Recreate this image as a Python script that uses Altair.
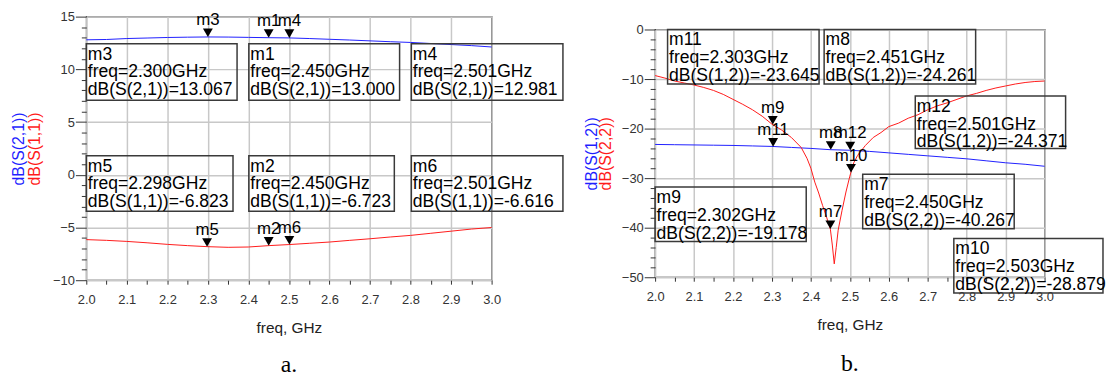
import altair as alt
import pandas as pd

FONT = "Liberation Sans"

# ---------------- panel a : S21 / S11 ----------------
freq_a = [2.00, 2.05, 2.10, 2.15, 2.20, 2.25, 2.30, 2.35, 2.40, 2.45, 2.50,
          2.55, 2.60, 2.65, 2.70, 2.75, 2.80, 2.85, 2.90, 2.95, 3.00]
s21_a = [12.80, 12.83, 12.92, 12.97, 13.02, 13.05, 13.07, 13.06, 13.03, 13.00, 12.98,
         12.92, 12.85, 12.78, 12.70, 12.62, 12.55, 12.45, 12.35, 12.25, 12.12]
s11_a = [-6.15, -6.22, -6.32, -6.45, -6.60, -6.72, -6.82, -6.88, -6.85, -6.72, -6.62,
         -6.50, -6.38, -6.22, -6.07, -5.90, -5.75, -5.55, -5.35, -5.15, -5.00]

mk_a_names = ["m3", "m1", "m4", "m5", "m2", "m6"]
mk_a_freq = [2.300, 2.450, 2.501, 2.298, 2.450, 2.501]
mk_a_val = [13.067, 13.000, 12.981, -6.823, -6.723, -6.616]
mk_a_param = ["S(2,1)", "S(2,1)", "S(2,1)", "S(1,1)", "S(1,1)", "S(1,1)"]

# ---------------- panel b : S12 / S22 ----------------
freq_b12 = [2.00, 2.05, 2.10, 2.15, 2.20, 2.25, 2.30, 2.35, 2.40, 2.45, 2.50,
            2.55, 2.60, 2.65, 2.70, 2.75, 2.80, 2.85, 2.90, 2.95, 3.00]
s12_b = [-23.2, -23.25, -23.3, -23.35, -23.4, -23.5, -23.6, -23.8, -24.0, -24.26, -24.37,
         -24.6, -24.9, -25.2, -25.5, -25.8, -26.1, -26.5, -26.9, -27.2, -27.6]
freq_b22 = [2.00, 2.025, 2.05, 2.075, 2.10, 2.125, 2.15, 2.175, 2.20, 2.225,
            2.25, 2.275, 2.30, 2.325, 2.35, 2.375, 2.39, 2.40, 2.41, 2.42,
            2.43, 2.44, 2.45, 2.455, 2.46, 2.465, 2.47, 2.48, 2.49, 2.50,
            2.51, 2.52, 2.53, 2.54, 2.56, 2.58, 2.60, 2.625, 2.65, 2.675,
            2.70, 2.725, 2.75, 2.775, 2.80, 2.825, 2.85, 2.875, 2.90, 2.925,
            2.95, 2.975, 3.00]
s22_b = [-9.3, -9.8, -10.4, -10.8, -11.2, -11.7, -12.3, -13.1, -14.1, -15.1,
         -16.2, -17.5, -19.1, -20.3, -21.8, -23.8, -26.0, -28.0, -30.8, -33.0,
         -35.5, -37.8, -40.3, -43.5, -47.3, -44.0, -40.5, -36.5, -32.8, -29.6,
         -26.9, -25.4, -24.4, -23.4, -21.8, -20.8, -19.6, -18.9, -17.9, -17.2,
         -16.2, -15.4, -14.8, -14.1, -13.4, -12.9, -12.3, -11.8, -11.4, -11.0,
         -10.7, -10.5, -10.4]

mk_b_names = ["m11", "m8", "m12", "m9", "m7", "m10"]
mk_b_freq = [2.303, 2.451, 2.501, 2.302, 2.450, 2.503]
mk_b_val = [-23.645, -24.261, -24.371, -19.178, -40.267, -28.879]
mk_b_param = ["S(1,2)", "S(1,2)", "S(1,2)", "S(2,2)", "S(2,2)", "S(2,2)"]

# tick positions
x_ticks = [2.0, 2.05, 2.1, 2.15, 2.2, 2.25, 2.3, 2.35, 2.4, 2.45, 2.5,
           2.55, 2.6, 2.65, 2.7, 2.75, 2.8, 2.85, 2.9, 2.95, 3.0]
y_ticks_a = [-10, -9, -8, -7, -6, -5, -4, -3, -2, -1, 0, 1, 2, 3, 4, 5,
             6, 7, 8, 9, 10, 11, 12, 13, 14, 15]
y_ticks_b = [-50, -48, -46, -44, -42, -40, -38, -36, -34, -32, -30, -28, -26,
             -24, -22, -20, -18, -16, -14, -12, -10, -8, -6, -4, -2, 0]

# marker read-out box placement (layout, in data units): left, right, bottom, top
box_a = {"m3": (2.0, 2.372, 7.07, 12.43), "m1": (2.401, 2.773, 7.07, 12.43),
         "m4": (2.802, 3.176, 7.07, 12.43), "m5": (2.0, 2.362, -3.45, 1.81),
         "m2": (2.401, 2.760, -3.45, 1.81), "m6": (2.802, 3.176, -3.45, 1.81)}
box_b = {"m11": (2.032, 2.421, -11.0, 0.0), "m8": (2.434, 2.823, -11.0, 0.0),
         "m12": (2.668, 3.054, -24.0, -13.4), "m9": (2.0, 2.388, -42.8, -31.8),
         "m7": (2.533, 2.922, -40.2, -29.2), "m10": (2.767, 3.150, -53.2, -42.2)}

GRID = "#c8c8c8"
INK = "#333333"


def x_axis():
    t = "abs(datum.value*10 - round(datum.value*10)) < 0.001"
    return alt.Axis(values=x_ticks, title="freq, GHz", format=".1f",
                    labelExpr=t + " ? datum.label : ''", labelOverlap=False, labelFlush=False,
                    tickSize=4, tickColor=INK, domain=False, grid=True, gridColor=GRID, gridWidth=1.5,
                    gridOpacity={"condition": {"test": t, "value": 1}, "value": 0},
                    labelFont=FONT, labelFontSize=13, labelColor=INK, labelPadding=9,
                    titleFont=FONT, titleFontSize=15.5, titleFontWeight="normal", titleColor="#222",
                    titlePadding=15)


def y_axis(ticks, major, title, color, tx, ty):
    t = f"datum.value % {major} === 0"
    return alt.Axis(values=ticks, orient="left", title=title, titleColor=color,
                    titleX=tx, titleY=ty, titleAngle=270, titleBaseline="middle", titleAlign="center",
                    titleFont=FONT, titleFontSize=16, titleFontWeight="normal",
                    labelExpr=t + " ? datum.label : ''", labelOverlap=False, labelFlush=False,
                    tickSize={"condition": {"test": t, "value": 11}, "value": 5}, tickColor=INK,
                    domain=False, grid=True, gridColor=GRID, gridWidth=1.5,
                    gridOpacity={"condition": {"test": t, "value": 1}, "value": 0},
                    labelFont=FONT, labelFontSize=13, labelColor=INK, labelPadding=1)


def title_only_axis(title, color, tx, ty):
    return alt.Axis(orient="left", title=title, titleColor=color, titleX=tx, titleY=ty,
                    titleAngle=270, titleBaseline="middle", titleAlign="center",
                    titleFont=FONT, titleFontSize=16, titleFontWeight="normal",
                    labels=False, ticks=False, domain=False, grid=False)


def panel(width, height, ydom, yticks, major, c1, c2, markers, boxes, names_y, caption, cap_off):
    xs = alt.Scale(domain=[2.0, 3.0], nice=False, zero=False)
    ys = alt.Scale(domain=ydom, nice=False, zero=False)
    (f1, v1, n1), (f2, v2, n2) = c1, c2
    df1 = pd.DataFrame({"f": f1, "v": v1})
    df2 = pd.DataFrame({"f": f2, "v": v2})
    l1 = alt.Chart(df1).mark_line(color="#1f1fff", strokeWidth=1).encode(
        x=alt.X("f:Q", scale=xs, axis=x_axis()),
        y=alt.Y("v:Q", scale=ys, axis=y_axis(yticks, major, n1, "#1f1fff", names_y[0], height / 2)))
    l2 = alt.Chart(df2).mark_line(color="#ff1a1a", strokeWidth=1).encode(
        x=alt.X("f:Q", scale=xs, axis=None),
        y=alt.Y("v:Q", scale=ys, axis=title_only_axis(n2, "#ff1a1a", names_y[1], height / 2)))
    names, fr, va, par = markers
    mk = pd.DataFrame({"name": names, "f": fr, "v": va})
    tri = alt.Chart(mk).mark_point(shape="triangle-down", filled=True, size=100,
                                   color="black", opacity=1, yOffset=-4.3).encode(
        x=alt.X("f:Q", scale=xs, axis=None), y=alt.Y("v:Q", scale=ys, axis=None))
    lab = alt.Chart(mk).mark_text(dy=-12, baseline="alphabetic", fontSize=17, font=FONT,
                                  color="black").encode(
        x=alt.X("f:Q", scale=xs, axis=None), y=alt.Y("v:Q", scale=ys, axis=None), text="name:N")
    rows = []
    for n, f, v, p in zip(names, fr, va, par):
        l, r, b, t = boxes[n]
        rows.append({"name": n, "l": l, "r": r, "b": b, "t": t,
                     "label": f"{n}\nfreq={f:.3f}GHz\ndB({p})={v:.3f}"})
    bx = pd.DataFrame(rows)
    rect = alt.Chart(bx).mark_rect(fill="transparent", stroke="#3a3a3a", strokeWidth=1.5).encode(
        x=alt.X("l:Q", scale=xs, axis=None), x2="r:Q",
        y=alt.Y("b:Q", scale=ys, axis=None), y2="t:Q")
    txt = alt.Chart(bx).mark_text(align="left", baseline="alphabetic", dx=1.5, dy=16,
                                  lineBreak="\n", lineHeight=18, fontSize=17.7, font=FONT,
                                  color="black").encode(
        x=alt.X("l:Q", scale=xs, axis=None), y=alt.Y("t:Q", scale=ys, axis=None), text="label:N")
    return alt.layer(l1, l2, rect, txt, tri, lab).resolve_axis(
        x="independent", y="independent").properties(
        width=width, height=height,
        view=alt.ViewBackground(stroke="#222222", strokeWidth=1.3),
        title=alt.TitleParams(caption, orient="bottom", anchor="middle", frame="group",
                              font="Liberation Serif", fontSize=24, fontWeight="normal",
                              color="black", offset=cap_off))


left = panel(409, 266, [-10, 15], y_ticks_a, 5,
             (freq_a, s21_a, "dB(S(2,1))"), (freq_a, s11_a, "dB(S(1,1))"),
             (mk_a_names, mk_a_freq, mk_a_val, mk_a_param), box_a, (-68, -52), "a.", 17)
right = panel(393, 250, [-50, 0], y_ticks_b, 10,
              (freq_b12, s12_b, "dB(S(1,2))"), (freq_b22, s22_b, "dB(S(2,2))"),
              (mk_b_names, mk_b_freq, mk_b_val, mk_b_param), box_b, (-64, -50), "b.", 19)

spacer = alt.Chart(pd.DataFrame({"s": [0]})).mark_point(opacity=0).properties(width=20, height=13)

chart = alt.hconcat(
    left, alt.vconcat(spacer, right, spacing=0, bounds="flush"),
    spacing=165, bounds="flush"
).properties(
    padding={"left": 2, "top": 0, "right": 0, "bottom": 0}
).configure_view(stroke="transparent")

chart.save("out.html", embed_options={"renderer": "svg", "actions": False})
